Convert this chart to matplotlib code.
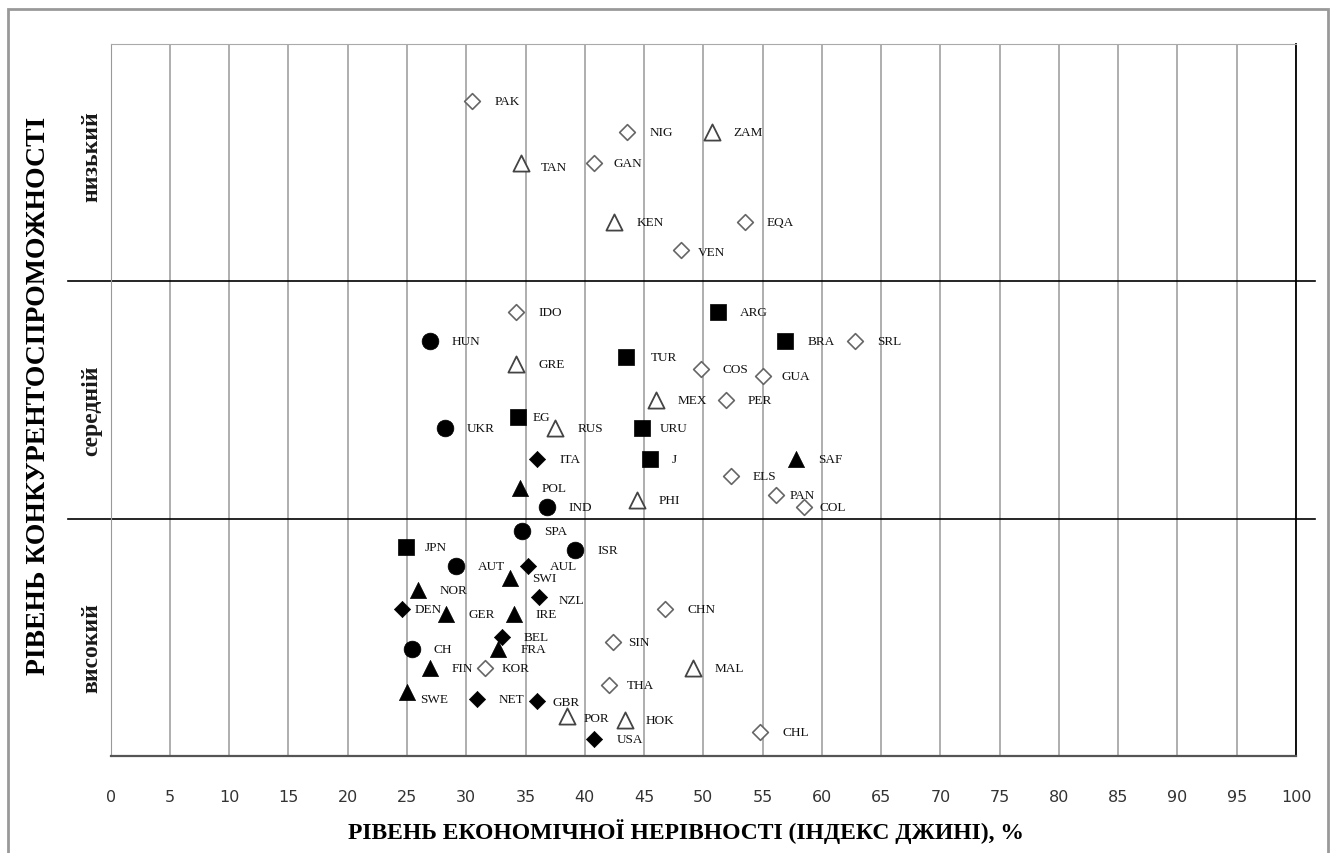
import matplotlib.pyplot as plt
from matplotlib.patches import Rectangle

# country codes, Gini index (x) and position inside the competitiveness band (y)
# bands: 0-1 високий, 1-2 середній, 2-3 низький
codes = [
    "PAK", "NIG", "ZAM", "TAN", "GAN", "KEN", "EQA", "VEN",
    "IDO", "ARG", "HUN", "BRA", "SRL", "GRE", "TUR", "COS", "GUA", "MEX", "PER",
    "EG", "UKR", "RUS", "URU", "ITA", "J", "SAF", "ELS", "POL", "PAN", "PHI", "IND", "COL",
    "SPA", "JPN", "ISR", "AUT", "AUL", "SWI", "NOR", "NZL", "DEN", "GER", "IRE", "CHN",
    "BEL", "SIN", "CH", "FRA", "FIN", "KOR", "MAL", "THA", "SWE", "NET", "GBR", "POR",
    "HOK", "USA", "CHL",
]
gini = [
    30.5, 43.6, 50.7, 34.6, 40.8, 42.5, 53.5, 48.1,
    34.2, 51.2, 26.9, 56.9, 62.8, 34.2, 43.5, 49.8, 55.0, 46.0, 51.9,
    34.4, 28.2, 37.5, 44.8, 36.0, 45.5, 57.8, 52.3, 34.5, 56.1, 44.4, 36.8, 58.5,
    34.7, 24.9, 39.2, 29.1, 35.2, 33.7, 25.9, 36.1, 24.6, 28.3, 34.0, 46.8,
    33.0, 42.4, 25.4, 32.7, 26.9, 31.6, 49.1, 42.0, 25.0, 30.9, 36.0, 38.5,
    43.4, 40.8, 54.8,
]
position = [
    2.76, 2.63, 2.63, 2.50, 2.50, 2.25, 2.25, 2.13,
    1.87, 1.87, 1.75, 1.75, 1.75, 1.65, 1.68, 1.63, 1.60, 1.50, 1.50,
    1.43, 1.38, 1.38, 1.38, 1.25, 1.25, 1.25, 1.18, 1.13, 1.10, 1.08, 1.05, 1.05,
    0.95, 0.88, 0.87, 0.80, 0.80, 0.75, 0.70, 0.67, 0.62, 0.60, 0.60, 0.62,
    0.50, 0.48, 0.45, 0.45, 0.37, 0.37, 0.37, 0.30, 0.27, 0.24, 0.23, 0.17,
    0.15, 0.07, 0.10,
]
# marker group: sq filled square, ci filled circle, tf filled triangle,
# df filled diamond, to open triangle, do open diamond
group = [
    "do", "do", "to", "to", "do", "to", "do", "do",
    "do", "sq", "ci", "sq", "do", "to", "sq", "do", "do", "to", "do",
    "sq", "ci", "to", "sq", "df", "sq", "tf", "do", "tf", "do", "to", "ci", "do",
    "ci", "sq", "ci", "ci", "df", "tf", "tf", "df", "df", "tf", "tf", "do",
    "df", "do", "ci", "tf", "tf", "do", "to", "do", "tf", "df", "df", "to",
    "to", "df", "do",
]
band_labels = ["високий", "середній", "низький"]
band_label_pos = [0.46, 1.46, 2.53]
x_ticks = list(range(0, 101, 5))

styles = {
    "sq": dict(marker="s", s=135, c="black", edgecolors="black", linewidths=0.5),
    "ci": dict(marker="o", s=145, c="black", edgecolors="black", linewidths=0.5),
    "tf": dict(marker="^", s=135, c="black", edgecolors="black", linewidths=0.5),
    "df": dict(marker="D", s=68, c="black", edgecolors="black", linewidths=0.5),
    "to": dict(marker="^", s=135, facecolors="white", edgecolors="#444444", linewidths=1.3),
    "do": dict(marker="D", s=64, facecolors="white", edgecolors="#666666", linewidths=1.2),
}

# label offsets in pixels (right, down) where they differ from the default
label_shift = {
    "TAN": (20, 4), "GAN": (19, 0), "VEN": (17, 2), "EG": (14, 0), "URU": (18, 0),
    "COL": (15, 0), "PAN": (14, 0), "GUA": (19, 0), "TUR": (25, 0), "DEN": (12, 0),
    "GBR": (15, 1), "POR": (17, 2), "SWE": (13, 7), "SIN": (15, 0), "KOR": (16, 0),
    "THA": (18, 0), "JPN": (19, 0), "HOK": (20, 0), "NZL": (20, 3),
}

fig = plt.figure(figsize=(13.35, 8.54), dpi=100)
ax = fig.add_axes([0.0829, 0.1136, 0.8879, 0.8337])

for key, st in styles.items():
    xs = [g for g, k in zip(gini, group) if k == key]
    ys = [p for p, k in zip(position, group) if k == key]
    ax.scatter(xs, ys, zorder=3, **st)

for c, x, y in zip(codes, gini, position):
    dx, dy = label_shift.get(c, (22, 0))
    ax.annotate(c, (x, y), xytext=(dx * 0.72, -dy * 0.72), textcoords="offset points",
                ha="left", va="center", fontsize=9.5, family="Liberation Serif",
                color="#111111", zorder=4)

ax.set_xlim(0, 100)
ax.set_ylim(0, 3)
ax.set_xticks(x_ticks)
ax.set_xticklabels([str(t) for t in x_ticks], fontsize=11.5, color="#333333",
                   family="DejaVu Sans")
ax.tick_params(axis="x", length=0, pad=24)
ax.set_yticks([])
ax.grid(axis="x", color="#999999", linewidth=1.1)
ax.set_axisbelow(True)

ax.spines["top"].set_color("#aaaaaa")
ax.spines["left"].set_color("#999999")
ax.spines["bottom"].set_color("#555555")
ax.spines["bottom"].set_linewidth(1.6)
ax.spines["right"].set_color("black")
ax.spines["right"].set_linewidth(1.3)

for yb in (1, 2):
    ax.axhline(yb, xmin=-0.036, xmax=1.016, color="black", linewidth=1.2,
               clip_on=False, zorder=2)

for lab, yp in zip(band_labels, band_label_pos):
    ax.text(-0.016, yp / 3, lab, transform=ax.transAxes, rotation=90,
            ha="center", va="center", fontsize=17, family="Liberation Serif",
            fontweight="bold", color="#1a1a1a")

fig.text(0.0285, 0.536, "РІВЕНЬ КОНКУРЕНТОСПРОМОЖНОСТІ", rotation=90,
         ha="center", va="center", fontsize=20, family="Liberation Serif",
         fontweight="bold")
fig.text(0.514, 0.026, "РІВЕНЬ ЕКОНОМІЧНОЇ НЕРІВНОСТІ (ІНДЕКС ДЖИНІ), %",
         ha="center", va="center", fontsize=17, family="Liberation Serif",
         fontweight="bold")

fig.patches.append(Rectangle((8 / 1335, -0.1), 1320 / 1335, 1.1 - 10 / 854,
                             transform=fig.transFigure, fill=False,
                             edgecolor="#999999", linewidth=2))

fig.savefig("out.png", dpi=100)
